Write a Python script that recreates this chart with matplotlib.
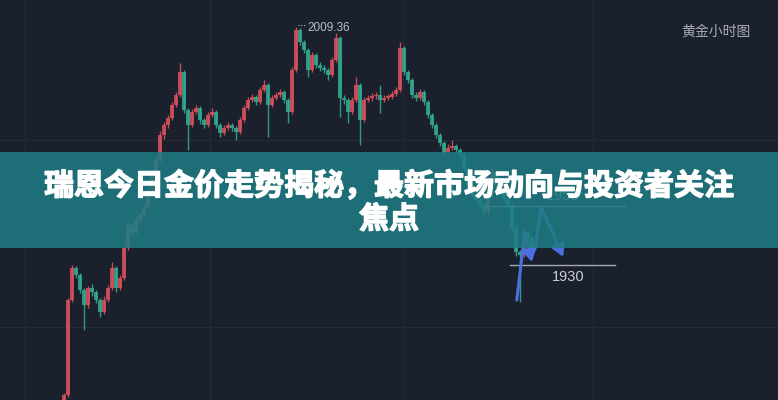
import matplotlib
matplotlib.use("Agg")
import matplotlib.pyplot as plt
from matplotlib.patches import Rectangle
import matplotlib.patheffects as pe

# ---------------- data (hourly gold candles) ----------------
opens = [1885.0, 1886.7, 1918.3, 1929.0, 1926.7, 1921.7, 1916.7, 1922.3, 1921.0, 1918.3,
         1914.3, 1918.3, 1922.3, 1929.0, 1922.3, 1925.7, 1935.7, 1943.3, 1941.0, 1945.0,
         1946.7, 1949.3, 1955.0, 1961.0, 1965.0, 1973.3, 1976.7, 1979.0, 1983.3, 1986.7,
         1994.3, 1981.7, 1976.7, 1981.0, 1982.3, 1978.3, 1976.7, 1980.0, 1981.0, 1976.7,
         1974.0, 1975.7, 1976.7, 1975.7, 1974.3, 1978.3, 1982.3, 1985.0, 1986.0, 1984.3,
         1988.3, 1990.0, 1983.3, 1985.7, 1986.7, 1987.7, 1985.0, 1981.0, 1995.0, 2008.3,
         2004.3, 2001.7, 1995.0, 2000.0, 1996.7, 1995.7, 1995.0, 1993.3, 1998.3, 2005.7,
         1985.7, 1985.0, 1981.0, 1985.0, 1990.0, 1978.3, 1985.0, 1985.7, 1986.3, 1986.7,
         1985.0, 1985.7, 1986.0, 1987.0, 1988.3, 2002.3, 1994.3, 1991.7, 1986.7, 1985.7,
         1987.7, 1984.3, 1980.0, 1976.7, 1973.3, 1970.7, 1967.7, 1969.0, 1969.7, 1968.3,
         1966.7, 1962.3, 1956.7, 1953.3, 1951.7, 1950.0, 1947.7, 1953.3, 1961.0, 1956.7,
         1954.3, 1952.3, 1950.0, 1942.3, 1934.3, 1933.3, 1940.7, 1939.0]
closes = [1886.7, 1918.3, 1929.0, 1926.7, 1921.7, 1916.7, 1922.3, 1921.0, 1918.3, 1914.3,
          1918.3, 1922.3, 1929.0, 1922.3, 1925.7, 1935.7, 1943.3, 1941.0, 1945.0, 1946.7,
          1949.3, 1955.0, 1961.0, 1965.0, 1973.3, 1976.7, 1979.0, 1983.3, 1986.7, 1994.3,
          1981.7, 1976.7, 1981.0, 1982.3, 1978.3, 1976.7, 1980.0, 1981.0, 1976.7, 1974.0,
          1975.7, 1976.7, 1975.7, 1974.3, 1978.3, 1982.3, 1985.0, 1986.0, 1984.3, 1988.3,
          1990.0, 1983.3, 1985.7, 1986.7, 1987.7, 1985.0, 1981.0, 1995.0, 2008.3, 2004.3,
          2001.7, 1995.0, 2000.0, 1996.7, 1995.7, 1995.0, 1993.3, 1998.3, 2005.7, 1985.7,
          1985.0, 1981.0, 1985.0, 1990.0, 1978.3, 1985.0, 1985.7, 1986.3, 1986.7, 1985.0,
          1985.7, 1986.0, 1987.0, 1988.3, 2002.3, 1994.3, 1991.7, 1986.7, 1985.7, 1987.7,
          1984.3, 1980.0, 1976.7, 1973.3, 1970.7, 1967.7, 1969.0, 1969.7, 1968.3, 1966.7,
          1962.3, 1956.7, 1953.3, 1951.7, 1950.0, 1947.7, 1953.3, 1961.0, 1956.7, 1954.3,
          1952.3, 1950.0, 1942.3, 1934.3, 1933.3, 1940.7, 1939.0, 1934.3]
highs = [1887.4, 1919.0, 1930.0, 1929.7, 1927.4, 1922.4, 1923.0, 1923.5, 1921.7, 1919.0,
         1919.5, 1923.2, 1931.0, 1929.7, 1926.8, 1936.6, 1944.5, 1944.0, 1946.0, 1947.6,
         1950.4, 1956.0, 1962.0, 1966.2, 1974.5, 1977.8, 1980.0, 1984.2, 1987.6, 1997.3,
         1995.0, 1982.4, 1982.0, 1983.4, 1983.0, 1979.0, 1981.0, 1982.2, 1981.7, 1977.4,
         1976.6, 1977.5, 1977.4, 1976.4, 1979.3, 1983.3, 1986.0, 1987.0, 1986.7, 1989.2,
         1991.7, 1990.7, 1986.6, 1987.6, 1988.6, 1988.4, 1985.7, 1996.0, 2009.36, 2009.0,
         2005.0, 2002.4, 2001.0, 2000.7, 1997.5, 1996.6, 1995.7, 1999.2, 2007.3, 2006.4,
         1986.6, 1985.7, 1986.0, 1992.7, 1990.7, 1986.0, 1986.8, 1987.2, 1987.6, 1990.0,
         1986.6, 1987.0, 1987.9, 1989.3, 2004.3, 2003.0, 1995.0, 1992.4, 1987.5, 1988.8,
         1988.4, 1985.0, 1980.7, 1977.4, 1974.0, 1971.4, 1970.2, 1971.5, 1970.4, 1969.0,
         1967.4, 1963.0, 1957.4, 1954.0, 1952.4, 1950.7, 1954.3, 1962.7, 1961.7, 1957.4,
         1955.0, 1953.0, 1950.7, 1943.0, 1935.0, 1941.7, 1941.4, 1939.7]
lows = [1884.5, 1886.0, 1917.6, 1925.5, 1920.5, 1908.3, 1915.8, 1919.8, 1917.2, 1912.8,
        1913.6, 1917.6, 1921.6, 1921.0, 1921.6, 1925.0, 1935.0, 1939.5, 1940.3, 1943.8,
        1946.0, 1948.6, 1954.3, 1959.8, 1964.3, 1972.0, 1975.5, 1978.3, 1982.6, 1986.0,
        1980.5, 1968.3, 1976.0, 1980.3, 1977.0, 1975.6, 1976.0, 1979.3, 1975.5, 1972.8,
        1973.3, 1975.0, 1974.6, 1971.7, 1973.6, 1977.6, 1981.6, 1984.3, 1983.2, 1983.6,
        1987.6, 1972.7, 1982.6, 1985.0, 1986.0, 1984.0, 1977.3, 1980.3, 1994.3, 2003.2,
        2000.5, 1992.7, 1994.3, 1995.6, 1994.6, 1994.0, 1991.7, 1992.6, 1997.6, 1979.3,
        1983.8, 1977.3, 1980.3, 1984.3, 1970.0, 1977.6, 1984.2, 1984.8, 1985.4, 1980.7,
        1984.2, 1985.0, 1985.2, 1986.3, 1987.6, 1993.2, 1990.6, 1985.5, 1984.6, 1985.0,
        1983.2, 1979.0, 1975.6, 1972.2, 1969.6, 1966.6, 1967.0, 1968.3, 1967.2, 1965.5,
        1961.2, 1955.5, 1952.2, 1950.6, 1948.9, 1946.4, 1947.0, 1952.6, 1955.5, 1953.2,
        1951.2, 1948.9, 1941.0, 1933.0, 1917.7, 1932.6, 1938.0, 1933.2]

# forecast arrows (candle index, price)
fc1_idx = [113.2, 115.2, 117.0]
fc1_px = [1918.3, 1941.0, 1931.0]
fc2_idx = [117.7, 119.3, 124.8]
fc2_px = [1935.0, 1949.3, 1932.7]

# support / resistance levels
level_labels = ["1953", "1930"]
level_prices = [1949.7, 1930.0]
level_start = [105.2, 111.5]
level_end = [140.2, 137.8]

peak_label = "2009.36"
peak_price = 2009.36
peak_idx = 58

grid_prices = [1971.7, 1909.3]
grid_idx = [-9.75, 36.5, 84.75, 132.25]

title_line1 = "瑞恩今日金价走势揭秘，最新市场动向与投资者关注"
title_line2 = "焦点"
corner_label = "黄金小时图"

# ---------------- drawing ----------------
BG = "#1b202d"
UP = "#d6505c"
DOWN = "#33a98f"
CJK = ["Noto Sans CJK SC", "DejaVu Sans"]

fig = plt.figure(figsize=(7.78, 4.0), dpi=100, facecolor=BG)
ax = fig.add_axes([0, 0, 1, 1])
ax.set_facecolor(BG)
ax.set_xlim(-16, 178.5)
ax.set_ylim(1885.0, 2018.33)
for s in ax.spines.values():
    s.set_visible(False)
ax.set_xticks(grid_idx)
ax.set_yticks(grid_prices)
ax.tick_params(length=0, labelbottom=False, labelleft=False)
ax.grid(True, color="#252b39", linewidth=0.8)

n = len(closes)
xs = list(range(n))
cols = [UP if c >= o else DOWN for o, c in zip(opens, closes)]
ax.vlines(xs, lows, highs, colors=cols, linewidth=1.0, alpha=0.9, zorder=2)
bottoms = [min(o, c) for o, c in zip(opens, closes)]
heights = [max(abs(c - o), 0.5) for o, c in zip(opens, closes)]
ax.bar(xs, heights, bottom=bottoms, width=0.78, color=cols, alpha=0.88,
       linewidth=0, zorder=3)

# levels
for p, a, b in zip(level_prices, level_start, level_end):
    ax.plot([a, b], [p, p], color="#a2a7b0", linewidth=1.0, zorder=4)
ax.text((level_start[0] + level_end[0]) / 2 + 2, level_prices[0] + 1.0, level_labels[0],
        color="#c9ccd2", fontsize=10.5, family="Liberation Sans",
        ha="center", va="bottom", zorder=4)
ax.text((level_start[1] + level_end[1]) / 2 + 1.5, level_prices[1] - 1.6, level_labels[1],
        color="#c9ccd2", fontsize=10.5, family="Liberation Sans",
        ha="center", va="top", zorder=4)

# forecast arrows
ARROW = "#4a6fe0"
for xi, yi in ((fc1_idx, fc1_px), (fc2_idx, fc2_px)):
    ax.plot(xi[:-1], yi[:-1], color=ARROW, linewidth=2.2, zorder=5, solid_capstyle="round")
    ax.annotate("", xy=(xi[-1], yi[-1]), xytext=(xi[-2], yi[-2]),
                arrowprops=dict(arrowstyle="-|>,head_length=0.7,head_width=0.4",
                                color=ARROW, lw=2.2, shrinkA=0, shrinkB=0), zorder=5)

# peak annotation
ax.plot([peak_idx + 0.5, peak_idx + 2.6], [peak_price + 0.6, peak_price + 0.6],
        color="#b8bcc4", linewidth=0.8, linestyle=(0, (1, 1.5)), zorder=4)
ax.text(peak_idx + 2.9, peak_price - 0.2, peak_label, color="#b8bcc4", fontsize=8.5,
        family="Liberation Sans", ha="left", va="center", zorder=4)

# corner label
fig.text(0.965, 0.92, corner_label, color="#a9adb5", fontsize=10,
         ha="right", va="center", family=CJK)

# banner
fig.patches.append(Rectangle((0, 0.38), 1, 0.24, transform=fig.transFigure,
                             facecolor="#1f7c85", alpha=0.85, edgecolor="none", zorder=10))
stroke = [pe.withStroke(linewidth=1.0, foreground="white")]
fig.text(0.5, 0.535, title_line1, color="white", fontsize=21.6, fontweight="heavy",
         ha="center", va="center", family=CJK, zorder=11, path_effects=stroke)
fig.text(0.5, 0.452, title_line2, color="white", fontsize=21.6, fontweight="heavy",
         ha="center", va="center", family=CJK, zorder=11, path_effects=stroke)

fig.savefig("out.png", dpi=100, facecolor=BG)
